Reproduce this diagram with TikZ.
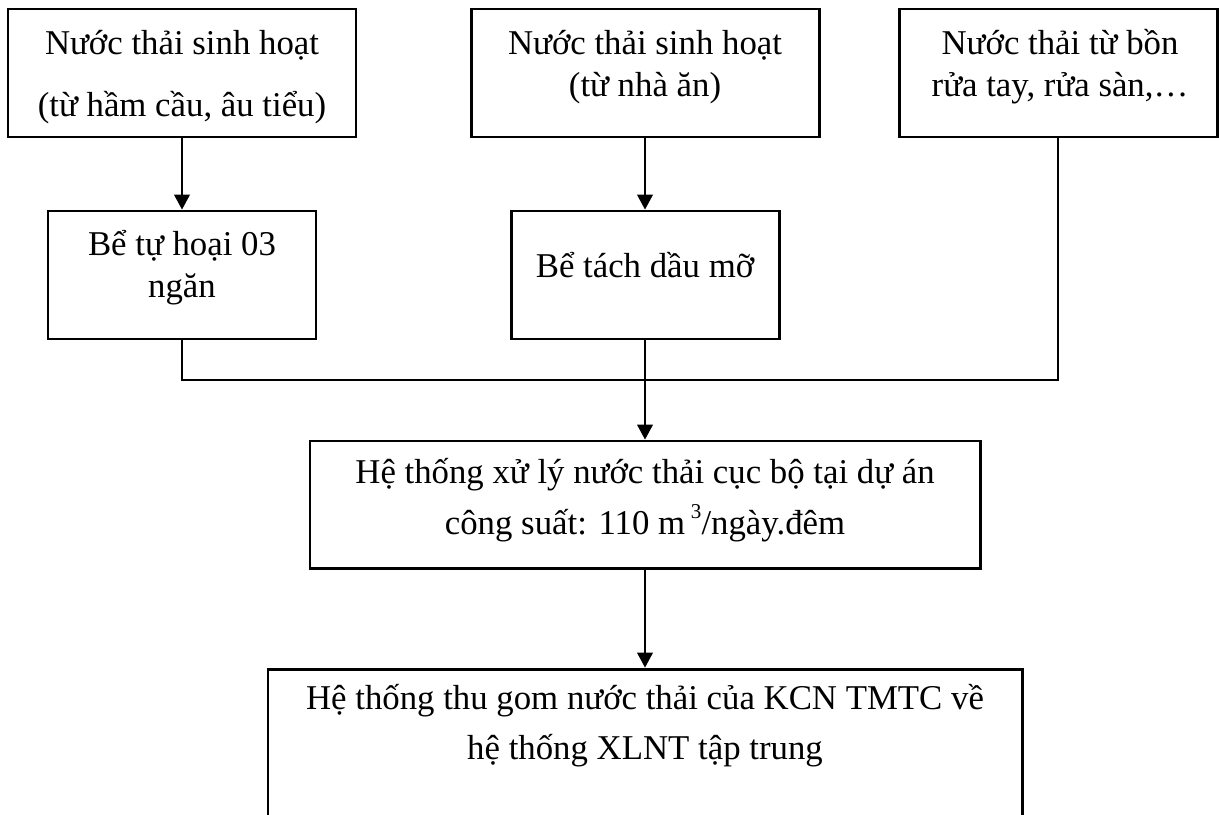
\documentclass[tikz,border=0pt]{standalone}
\usepackage{fontspec}
\setmainfont{Liberation Serif}
\usetikzlibrary{fit,arrows.meta}
\begin{document}
\begin{tikzpicture}[x=0.02cm,y=-0.02cm,
  box/.style={draw,line width=1.7pt,inner sep=0pt},
  txt/.style={anchor=base,inner sep=0pt,font=\fontsize{19.8}{24}\selectfont},
  conn/.style={line width=0.6pt},
  arr/.style={conn,-{Triangle[width=0.32cm,length=0.3cm]}}]
\clip (0,0) rectangle (1219,814);
\fill[white] (0,0) rectangle (1219,814);
% boxes
\node[box,fit={(8,9) (356,137)}] (b1) {};
\node[box,fit={(471,9) (819,137)}] (b2) {};
\node[box,fit={(899,9) (1217,137)}] (b3) {};
\node[box,fit={(48,211) (316,339)}] (b4) {};
\node[box,fit={(511,211) (779,339)}] (b5) {};
\node[box,fit={(310,441) (980,568)}] (b6) {};
\node[box,fit={(268,669) (1022,840)}] (b7) {};
% texts
\node[txt] (t1a) at (182,55) {Nước thải sinh hoạt};
\node[txt] (t1b) at (182,117) {(từ hầm cầu, âu tiểu)};
\node[txt] (t2a) at (645,55) {Nước thải sinh hoạt};
\node[txt] (t2b) at (645,97) {(từ nhà ăn)};
\node[txt] (t3a) at (1060,55) {Nước thải từ bồn};
\node[txt] (t3b) at (1060,97) {rửa tay, rửa sàn,…};
\node[txt] (t4a) at (182,255) {Bể tự hoại 03};
\node[txt] (t4b) at (182,297) {ngăn};
\node[txt] (t5a) at (645,277) {Bể tách dầu mỡ};
\node[txt] (t6a) at (645,483) {Hệ thống xử lý nước thải cục bộ tại dự án};
\node[txt] (t6b) at (645,534) {công suất: 110 m\,\raisebox{0.45em}{\fontsize{12}{12}\selectfont 3}/ngày.đêm};
\node[txt] (t7a) at (645,709) {Hệ thống thu gom nước thải của KCN TMTC về};
\node[txt] (t7b) at (645,759) {hệ thống XLNT tập trung};
% connectors
\coordinate (bus) at (645,380);
\draw[arr] (b1.south) -- (b4.north);
\draw[arr] (b2.south) -- (b5.north);
\draw[conn] (b4.south) |- (bus) -| (b3.south);
\draw[arr] (b5.south) -- (b6.north);
\draw[arr] (b6.south) -- (b7.north);
\end{tikzpicture}
\end{document}
